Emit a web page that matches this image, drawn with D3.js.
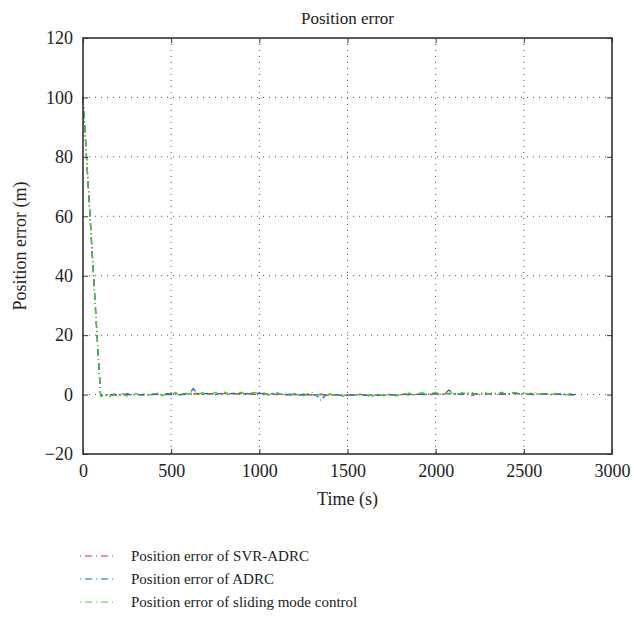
<!DOCTYPE html>
<html><head><meta charset="utf-8">
<script src="https://cdn.jsdelivr.net/npm/d3@7/dist/d3.min.js"></script>
<style>body{margin:0;background:#fff}svg{display:block}text{font-family:"Liberation Serif","Times New Roman",serif;fill:#222}</style>
</head><body><svg id="c" width="634" height="619"></svg>
<script>
const time = [0,
100,125,150,175,200,225,250,275,300,325,
350,375,400,425,450,475,500,525,550,575,
600,625,650,675,700,725,750,775,800,825,
850,875,900,925,950,975,1000,1025,1050,1075,
1100,1125,1150,1175,1200,1225,1250,1275,1300,1325,
1350,1375,1400,1425,1450,1475,1500,1525,1550,1575,
1600,1625,1650,1675,1700,1725,1750,1775,1800,1825,
1850,1875,1900,1925,1950,1975,2000,2025,2050,2075,
2100,2125,2150,2175,2200,2225,2250,2275,2300,2325,
2350,2375,2400,2425,2450,2475,2500,2525,2550,2575,
2600,2625,2650,2675,2700,2725,2750,2775,2800];
const svrAdrc = [100,
-0.3,-0.2,-0.1,0.1,-0.2,0.0,0.2,-0.1,0.1,0.0,
-0.2,0.1,0.2,0.0,-0.1,0.2,0.3,0.1,0.0,0.2,
0.3,0.1,0.4,0.2,0.1,0.3,0.4,0.2,0.3,0.5,
0.3,0.2,0.4,0.3,0.2,0.1,0.3,0.2,0.1,0.0,
0.2,0.1,-0.1,0.0,0.1,-0.2,-0.1,0.0,-0.2,-0.1,
0.1,-0.2,-0.3,-0.1,0.0,-0.2,-0.3,-0.1,-0.2,0.0,
-0.3,-0.2,-0.1,-0.3,-0.2,0.0,-0.1,-0.2,0.0,0.1,
-0.1,0.0,0.1,0.2,0.0,0.1,0.3,0.1,0.2,0.4,
0.2,0.1,0.3,0.2,-0.4,0.1,0.2,0.0,0.3,0.4,
0.2,0.1,0.3,0.2,0.4,0.3,0.1,0.2,0.0,0.1,
0.3,0.2,0.1,0.0,0.2,0.1,-0.1,0.0,0.1];
const adrc = [100,
-0.4,-0.3,0.0,-0.2,-0.1,-0.3,0.1,-0.2,0.0,-0.1,
0.1,-0.2,0.0,0.2,-0.1,0.1,0.0,0.2,-0.1,0.1,
0.0,2.0,0.3,0.1,0.4,0.2,0.0,0.3,0.5,0.2,
0.4,0.3,0.1,0.4,0.2,0.3,0.5,0.2,0.1,0.3,
0.0,0.2,-0.1,0.1,0.0,-0.2,0.1,-0.1,0.0,-0.3,
-2.0,-0.1,-0.3,0.0,-0.2,-0.4,-0.1,-0.2,-0.3,0.0,
-0.2,-0.4,-0.1,-0.2,-0.3,-0.1,0.0,-0.2,-0.1,0.1,
0.0,-0.1,0.2,0.0,0.1,0.2,0.3,0.1,0.2,1.5,
0.3,0.2,0.1,0.4,0.2,0.3,0.1,0.5,0.2,0.3,
0.4,0.2,0.1,0.3,0.6,0.2,0.4,0.1,0.2,0.3,
0.1,0.2,0.0,0.3,0.1,0.2,0.0,-0.1,0.1];
const smc = [100,
-0.6,-0.2,-0.7,0.1,-0.4,0.3,-0.5,0.0,0.4,-0.3,
0.5,-0.2,0.3,0.6,-0.4,0.4,0.1,0.7,-0.3,0.5,
0.2,0.8,0.0,0.6,0.3,-0.2,0.7,0.2,0.9,0.1,
0.6,0.3,0.8,0.0,0.5,0.7,0.1,0.6,-0.2,0.4,
0.7,0.0,0.5,-0.3,0.4,0.1,-0.4,0.3,0.6,-0.2,
0.1,-0.5,0.3,-0.3,0.1,-0.6,0.2,-0.4,-0.1,0.2,
-0.5,0.0,-0.7,0.2,-0.4,-0.1,0.3,-0.5,0.1,-0.3,
0.5,-0.2,0.3,0.6,0.0,0.4,0.7,0.1,0.5,0.2,
0.8,0.0,0.6,0.3,0.9,0.1,0.5,0.7,0.2,0.6,
0.3,0.8,0.1,0.5,0.7,0.0,0.6,0.2,0.7,0.3,
0.1,0.5,-0.2,0.4,0.2,-0.3,0.1,0.4,0.0];
const seriesNames = ["Position error of SVR-ADRC","Position error of ADRC","Position error of sliding mode control"];
const seriesColors = ["#e8262a","#2a62c4","#3ccc2e"];
const xTicks = [0,500,1000,1500,2000,2500,3000];
const yTicks = [-20,0,20,40,60,80,100,120];
const xTickLabels = ["0","500","1000","1500","2000","2500","3000"];
const yTickLabels = ["\u221220","0","20","40","60","80","100","120"];

const svg = d3.select("#c");
const L=83,R=612,T=38,B=454;
const x = d3.scaleLinear().domain([0,3000]).range([L,R]);
const y = d3.scaleLinear().domain([-20,120]).range([B,T]);

// grid
const g = svg.append("g");
g.selectAll(".gx").data(xTicks.slice(1,-1)).join("line")
 .attr("x1",d=>x(d)).attr("x2",d=>x(d)).attr("y1",T).attr("y2",B)
 .attr("stroke","#555").attr("stroke-width",1).attr("stroke-dasharray","1,5");
g.selectAll(".gy").data(yTicks.slice(1,-1)).join("line")
 .attr("y1",d=>y(d)).attr("y2",d=>y(d)).attr("x1",L).attr("x2",R)
 .attr("stroke","#555").attr("stroke-width",1).attr("stroke-dasharray","1,5");

// series
const series=[svrAdrc,adrc,smc];
const line = d3.line().x((d,i)=>x(time[i])).y(d=>y(d));
series.forEach((s,k)=>{
  svg.append("path").datum(s).attr("d",line).attr("fill","none")
   .attr("stroke",seriesColors[k]).attr("stroke-width",1.3)
   .attr("stroke-dasharray","7,3,1,3");
});

// axes
const xa = svg.append("g").attr("transform",`translate(0,${B})`)
 .call(d3.axisBottom(x).tickValues(xTicks).tickFormat((d,i)=>xTickLabels[i]).tickSizeInner(-5).tickSizeOuter(0).tickPadding(10));
const xt = svg.append("g").attr("transform",`translate(0,${T})`)
 .call(d3.axisTop(x).tickValues(xTicks).tickFormat("").tickSizeInner(-5).tickSizeOuter(0));
const ya = svg.append("g").attr("transform",`translate(${L},0)`)
 .call(d3.axisLeft(y).tickValues(yTicks).tickFormat((d,i)=>yTickLabels[i]).tickSizeInner(-5).tickSizeOuter(0).tickPadding(10));
const yr = svg.append("g").attr("transform",`translate(${R},0)`)
 .call(d3.axisRight(y).tickValues(yTicks).tickFormat("").tickSizeInner(-5).tickSizeOuter(0));
[xa,xt,ya,yr].forEach(a=>{a.select(".domain").remove();a.selectAll("line").attr("stroke","#333");
  a.selectAll("text").attr("font-size",18).attr("fill","#222").attr("font-family",'"Liberation Serif",serif');});
svg.append("rect").attr("x",L).attr("y",T).attr("width",R-L).attr("height",B-T)
 .attr("fill","none").attr("stroke","#333").attr("stroke-width",1.6);

svg.append("text").attr("x",(L+R)/2).attr("y",24).attr("text-anchor","middle").attr("font-size",17).text("Position error");
svg.append("text").attr("x",(L+R)/2).attr("y",505).attr("text-anchor","middle").attr("font-size",18).text("Time (s)");
svg.append("text").attr("transform",`translate(26,${(T+B)/2}) rotate(-90)`).attr("text-anchor","middle").attr("font-size",18).text("Position error (m)");

// legend
const lg = svg.append("g");
seriesNames.forEach((n,k)=>{
  const yy = 556 + k*23;
  lg.append("line").attr("x1",80).attr("x2",115).attr("y1",yy).attr("y2",yy)
    .attr("stroke",seriesColors[k]).attr("stroke-width",1.2).attr("stroke-dasharray","1,4,7,4");
  lg.append("text").attr("x",131).attr("y",yy+5).attr("font-size",15).text(n);
});
</script></body></html>
